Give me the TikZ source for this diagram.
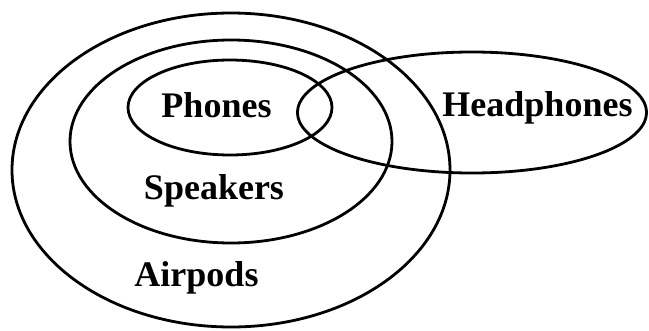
\documentclass[tikz,border=0pt]{standalone}
\usepackage{fontspec}
\setmainfont{Liberation Serif}
\begin{document}
\begin{tikzpicture}[x=1pt,y=-1pt,
  ring/.style={draw=black,line width=2.8pt},
  lbl/.style={font=\fontsize{36}{40}\selectfont\bfseries,anchor=base,inner sep=0pt}]
\useasboundingbox[fill=white] (0,0) rectangle (649,330);
% Airpods
\draw[ring] (231,170) ellipse [x radius=219, y radius=157];
% Speakers
\draw[ring] (231,141.5) ellipse [x radius=161, y radius=101.5];
% Phones
\draw[ring] (230,107.5) ellipse [x radius=102, y radius=47.5];
% Headphones
\draw[ring] (472,112.5) ellipse [x radius=174.5, y radius=60.5];
\node[lbl] (phones) at (216.5,117) {Phones};
\node[lbl] (headphones) at (537.5,116) {Headphones};
\node[lbl] (speakers) at (214,199) {Speakers};
\node[lbl] (airpods) at (196.5,286) {Airpods};
\end{tikzpicture}
\end{document}
